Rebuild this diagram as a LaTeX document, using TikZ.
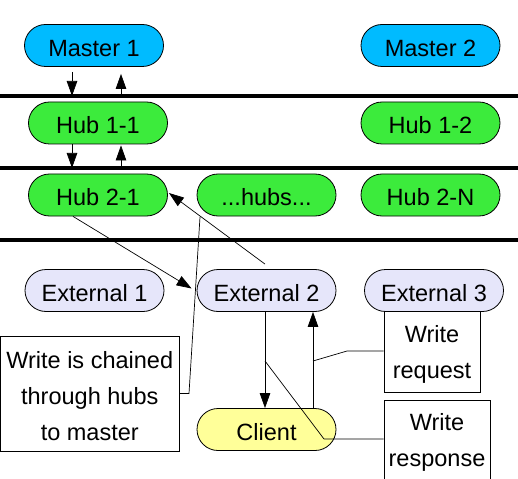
\documentclass[tikz,border=0pt]{standalone}
\usepackage{fontspec}
\setmainfont{Liberation Sans}
\usetikzlibrary{arrows.meta}
\definecolor{masterc}{RGB}{0,187,255}
\definecolor{hubc}{RGB}{60,235,60}
\definecolor{extc}{RGB}{230,230,250}
\definecolor{clic}{RGB}{255,255,153}
\begin{document}
\begin{tikzpicture}[x=1bp,y=-1bp,
  box/.style={draw=black, line width=0.8bp, rounded corners=21bp, minimum width=139bp, minimum height=42bp, inner sep=0pt, text height=22bp, text depth=0pt, font=\fontsize{23.6}{28}\selectfont},
  master/.style={box, fill=masterc},
  hub/.style={box, fill=hubc},
  ext/.style={box, fill=extc},
  cli/.style={box, fill=clic},
  note/.style={draw=black, line width=0.8bp, fill=white, inner sep=0pt},
  notetext/.style={inner sep=0pt, align=center, font=\fontsize{23.6}{36}\selectfont},
  arr/.style={-{Triangle[length=15bp,width=10.5bp]}, line width=0.7bp},
  conn/.style={line width=0.7bp},
  rulebar/.style={line width=3.5bp}]
\useasboundingbox (0,0) rectangle (518,479);
\clip (0,0) rectangle (518,479);

% layer separators
\coordinate (L1) at (0,96);
\coordinate (L2) at (0,168);
\coordinate (L3) at (0,240);
\draw[rulebar] (L1) -- (518,96);
\draw[rulebar] (L2) -- (518,168);
\draw[rulebar] (L3) -- (518,240);

% callout boxes (behind)
\node[note, minimum width=96bp, minimum height=81bp] (wr) at (432,351.5) {};
\node[notetext] (wrt) at (432,354) {Write\\request};
\node[note, minimum width=106bp, minimum height=85bp] (wres) at (437,442.5) {};
\node[notetext] (wrest) at (437,442) {Write\\response};
\node[note, minimum width=178.5bp, minimum height=115bp] (wc) at (89.75,393.5) {};
\node[notetext] (wct) at (89.75,396) {Write is chained\\through hubs\\to master};

% boxes
\node[master] (m1) at (94,45.5) {Master 1};
\node[master] (m2) at (430.5,45.5) {Master 2};
\node[hub] (h11) at (98,123) {Hub 1-1};
\node[hub] (h12) at (430.5,123) {Hub 1-2};
\node[hub] (h21) at (98,195) {Hub 2-1};
\node[hub] (hh) at (266.5,195) {...hubs...};
\node[hub] (h2n) at (430.5,195) {Hub 2-N};
\node[ext] (e1) at (94.5,290.5) {External 1};
\node[ext] (e2) at (266.5,290.5) {External 2};
\node[ext] (e3) at (434,290.5) {External 3};
\node[cli] (cl) at (266.5,429.5) {Client};

% vertical arrows between layers
\coordinate (xL) at (72,0);
\coordinate (xR) at (121,0);
\draw[arr] ([yshift=-5bp]m1.south -| xL) -- (L1 -| xL);
\draw[arr] (L1 -| xR) -- ([yshift=-7bp]m1.south -| xR);
\draw[arr] (h11.south -| xL) -- (L2 -| xL);
\draw[arr] (L2 -| xR) -- ([yshift=-1bp]h11.south -| xR);

% chained write
\draw[arr] ([xshift=-25bp]h21.south) -- ([xshift=-5bp,yshift=2bp]e2.west);
\draw[arr] ([xshift=-1.5bp,yshift=5bp]e2.north) -- ([xshift=1bp,yshift=2bp]h21.east);

% client arrows
\draw[arr] ([xshift=-1.5bp]e2.south) -- ([xshift=-1.5bp]cl.north);
\draw[arr] ([xshift=46.5bp]cl.north) -- ([xshift=46.5bp]e2.south);

% callout lines
\coordinate (c1a) at (189,393.5);
\coordinate (c1b) at (200,217);
\draw[conn] (wc.east) -- (c1a) -- (c1b);
\coordinate (c2a) at (347,351);
\coordinate (c2b) at (313,361);
\draw[conn] ([yshift=0.5bp]wr.west) -- (c2a) -- (c2b);
\coordinate (c3a) at (324,439);
\coordinate (c3b) at (265,361);
\draw[conn] ([yshift=3.5bp]wres.west) -- (c3a) -- (c3b);
\end{tikzpicture}
\end{document}
